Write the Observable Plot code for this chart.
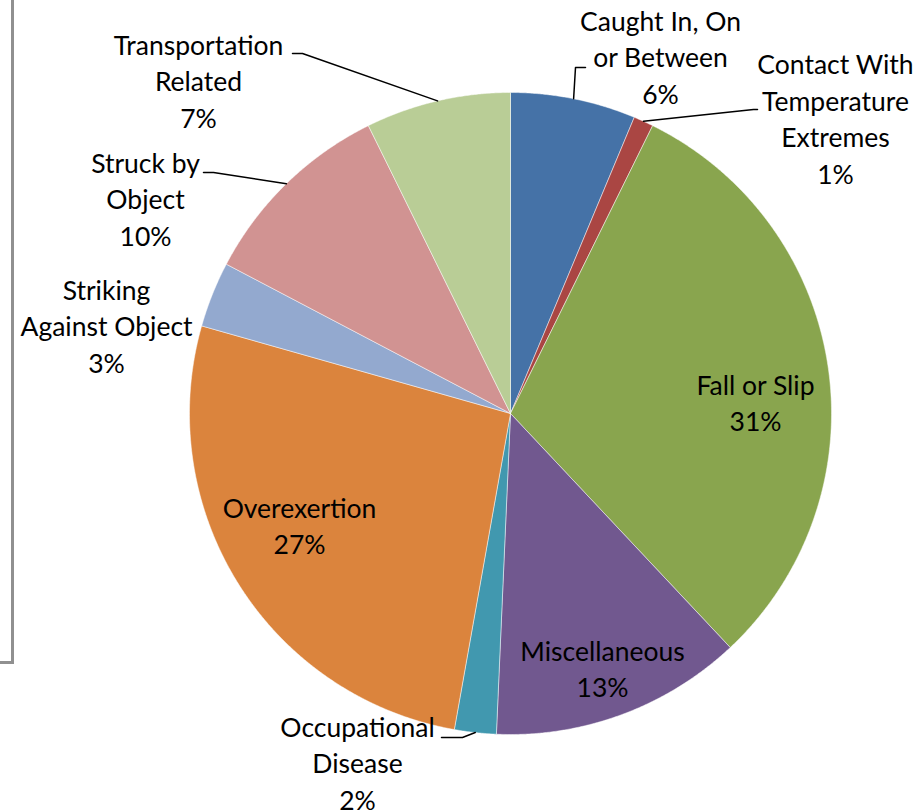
<!DOCTYPE html>
<html><head><meta charset="utf-8">
<script src="https://cdn.jsdelivr.net/npm/d3@7"></script>
<script src="https://cdn.jsdelivr.net/npm/@observablehq/plot@0.6"></script>
<style>
body{margin:0;background:#fff;font-family:Lato,sans-serif}
#wrap{position:relative;width:920px;height:811px;overflow:hidden}
#frame{position:absolute;left:0;top:-3px;width:11px;height:664px;border-right:3px solid #909090;border-bottom:3px solid #909090;z-index:2}
#chart{position:absolute;left:0;top:0;z-index:1}
</style></head><body>
<div id="wrap"><div id="chart"></div><div id="frame"></div></div>
<script>
// ---- data ----
const categories = ["Caught In, On or Between","Contact With Temperature Extremes","Fall or Slip","Miscellaneous","Occupational Disease","Overexertion","Striking Against Object","Struck by Object","Transportation Related"];
const labelText = ["Caught In, On\nor Between","Contact With\nTemperature\nExtremes","Fall or Slip","Miscellaneous","Occupational\nDisease","Overexertion","Striking\nAgainst Object","Struck by\nObject","Transportation\nRelated"];
const shares = [6.3, 1.0, 30.7, 12.7, 2.1, 26.6, 3.3, 10.0, 7.3];
const pctLabels = ["6%","1%","31%","13%","2%","27%","3%","10%","7%"];
const colors = ["#4572A7","#AA4643","#89A54E","#71588F","#4198AF","#DB843D","#93A9CF","#D19392","#B9CD96"];

// ---- layout (pixel positions in the 920x811 frame) ----
const W = 920, H = 811, CX = 510, CY = 413, R = 321;
const labelPos = [[660,55],[835,117],[755,401],[602,667],[357,761],[299,524],[106,324],[145,197],[198,79]];
const leaderElbows = [[[575,67],[585,67]],[[753,109],[757,109]],null,null,[[462,737],[441,737]],null,null,[[213,172],[203,172]],[[302,53],[292,53]]];

const toX = px => px - CX, toY = py => CY - py;
const total = d3.sum(shares);
let acc = 0;
const slicePts = [], labels = [], leaders = [];
shares.forEach((v, i) => {
  const a0 = acc / total * 2 * Math.PI; acc += v;
  const a1 = acc / total * 2 * Math.PI;
  const cat = categories[i];
  slicePts.push({cat, x: 0, y: 0});
  const n = Math.max(2, Math.ceil((a1 - a0) / (Math.PI / 720)));
  for (let k = 0; k <= n; k++) {
    const a = a0 + (a1 - a0) * k / n;
    slicePts.push({cat, x: R * Math.sin(a), y: R * Math.cos(a)});
  }
  slicePts.push({cat, x: 0, y: 0});
  labels.push({cat, x: toX(labelPos[i][0]), y: toY(labelPos[i][1]), text: labelText[i] + "\n" + pctLabels[i]});
  if (leaderElbows[i]) {
    const am = (a0 + a1) / 2;
    leaders.push({cat, x: R * Math.sin(am), y: R * Math.cos(am)});
    leaderElbows[i].forEach(p => leaders.push({cat, x: toX(p[0]), y: toY(p[1])}));
  }
});

const chart = Plot.plot({
  width: W, height: H,
  margin: 0,
  x: {domain: [-CX, W - CX], range: [0, W], axis: null},
  y: {domain: [CY - H, CY], range: [H, 0], axis: null},
  color: {domain: categories, range: colors},
  style: {fontFamily: "Lato, sans-serif", background: "transparent", overflow: "visible"},
  marks: [
    Plot.line(slicePts, {x: "x", y: "y", z: "cat", fill: "cat", stroke: "#ffffff", strokeWidth: 0.6, strokeOpacity: 0.8, curve: "linear"}),
    Plot.line(leaders, {x: "x", y: "y", z: "cat", stroke: "black", strokeWidth: 1.5}),
    Plot.text(labels, {x: "x", y: "y", text: "text", fill: "black", fontSize: 26.5, lineHeight: 1.38, lineAnchor: "middle", textAnchor: "middle"})
  ]
});
document.getElementById("chart").appendChild(chart);
</script>
</body></html>
